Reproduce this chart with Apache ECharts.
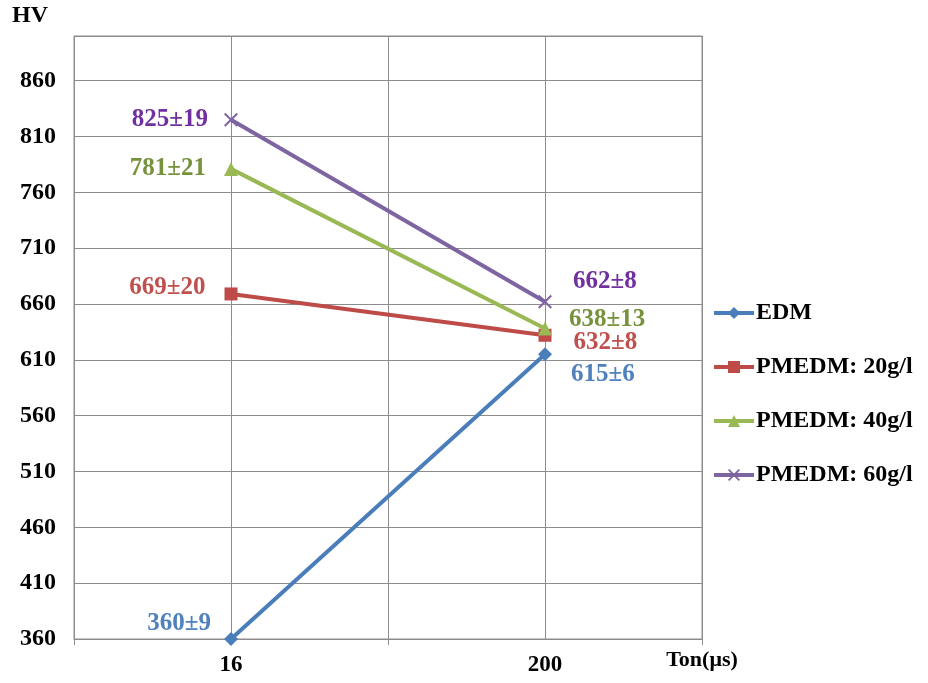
<!DOCTYPE html>
<html>
<head>
<meta charset="utf-8">
<script src="https://cdn.jsdelivr.net/npm/echarts@6/dist/echarts.min.js"></script>
<style>
  html, body { margin: 0; padding: 0; background: #fff; }
  #chart { width: 928px; height: 683px; }
</style>
</head>
<body>
<div id="chart"></div>
<script>
// x categories (Ton, µs)
var tonLabels = ["16", "200"];
// hardness HV, and the +/- spread
var edm = [360, 615];
var edmErr = [9, 6];
var pm20 = [669, 632];
var pm20Err = [20, 8];
var pm40 = [781, 638];
var pm40Err = [21, 13];
var pm60 = [825, 662];
var pm60Err = [19, 8];
var seriesNames = ["EDM", "PMEDM: 20g/l", "PMEDM: 40g/l", "PMEDM: 60g/l"];

var serif = "Liberation Serif, Times New Roman, serif";
var xMark = "path://M0,1L1,0L5,4L9,0L10,1L6,5L10,9L9,10L5,6L1,10L0,9L4,5Z";

function buildData(vals, errs, color, leftCfg, rightCfg) {
  return vals.map(function (v, i) {
    var cfg = i === 0 ? leftCfg : rightCfg;
    return {
      value: v,
      label: {
        show: true,
        position: cfg.pos,
        distance: cfg.dist,
        offset: cfg.off,
        color: color,
        fontFamily: serif,
        fontWeight: "bold",
        fontSize: 25,
        formatter: v + "±" + errs[i]
      }
    };
  });
}

var chart = echarts.init(document.getElementById("chart"));
chart.setOption({
  animation: false,
  grid: { left: 74, right: 226, top: 36, bottom: 44, show: true, borderColor: "#8c8c8c", borderWidth: 1 },
  legend: {
    orient: "vertical",
    left: 707,
    top: 296,
    itemGap: 30,
    itemWidth: 40,
    itemHeight: 15,
    lineStyle: { width: 4 },
    textStyle: { fontFamily: serif, fontWeight: "bold", fontSize: 24, color: "#000", padding: [0, 0, 0, -3] },
    data: seriesNames
  },
  xAxis: [
    {
      type: "category",
      data: tonLabels,
      boundaryGap: true,
      name: "Ton(μs)",
      nameLocation: "end",
      nameGap: 0,
      nameTextStyle: { fontFamily: serif, fontWeight: "bold", fontSize: 22, color: "#000", align: "center", verticalAlign: "top", padding: [10, 0, 0, 0] },
      axisLine: { lineStyle: { color: "#8c8c8c" } },
      axisTick: { show: true, length: 6, lineStyle: { color: "#8c8c8c" } },
      axisLabel: { fontFamily: serif, fontWeight: "bold", fontSize: 23, color: "#000", margin: 15 },
      splitLine: { show: true, lineStyle: { color: "#8c8c8c" } }
    },
    {
      type: "value",
      min: 0,
      max: 4,
      interval: 1,
      show: true,
      axisLine: { show: false },
      axisTick: { show: false },
      axisLabel: { show: false },
      splitLine: { show: true, lineStyle: { color: "#8c8c8c" } }
    }
  ],
  yAxis: {
    type: "value",
    min: 360,
    max: 900,
    interval: 50,
    name: "HV",
    nameLocation: "end",
    nameGap: 8,
    nameTextStyle: { fontFamily: serif, fontWeight: "bold", fontSize: 24, color: "#000", align: "right", padding: [0, 26, 0, 0] },
    axisLine: { show: true, lineStyle: { color: "#8c8c8c" } },
    axisTick: { show: false },
    axisLabel: {
      fontFamily: serif, fontWeight: "bold", fontSize: 24, color: "#000", margin: 18,
      showMaxLabel: false
    },
    splitLine: { show: true, lineStyle: { color: "#8c8c8c" } }
  },
  series: [
    {
      name: seriesNames[0], type: "line", symbol: "diamond", symbolSize: 14,
      itemStyle: { color: "#4A7EBB" }, lineStyle: { color: "#4A7EBB", width: 4 },
      data: buildData(edm, edmErr, "#4F81BD",
        { pos: "left", dist: 13, off: [0, -15] },
        { pos: "right", dist: 19, off: [0, 20] })
    },
    {
      name: seriesNames[1], type: "line", symbol: "rect", symbolSize: 13,
      itemStyle: { color: "#BE4B48" }, lineStyle: { color: "#BE4B48", width: 4 },
      data: buildData(pm20, pm20Err, "#C0504D",
        { pos: "left", dist: 19, off: [0, -6] },
        { pos: "right", dist: 22, off: [0, 7] })
    },
    {
      name: seriesNames[2], type: "line", symbol: "triangle", symbolSize: 14,
      itemStyle: { color: "#98B954" }, lineStyle: { color: "#98B954", width: 4 },
      data: buildData(pm40, pm40Err, "#76923C",
        { pos: "left", dist: 18, off: [0, 0] },
        { pos: "right", dist: 17, off: [0, -9] })
    },
    {
      name: seriesNames[3], type: "line", symbol: xMark, symbolSize: 14,
      itemStyle: { color: "#7E64A1" }, lineStyle: { color: "#7E64A1", width: 4 },
      data: buildData(pm60, pm60Err, "#7030A0",
        { pos: "left", dist: 16, off: [0, 0] },
        { pos: "right", dist: 21, off: [0, -20] })
    }
  ]
});
</script>
</body>
</html>
